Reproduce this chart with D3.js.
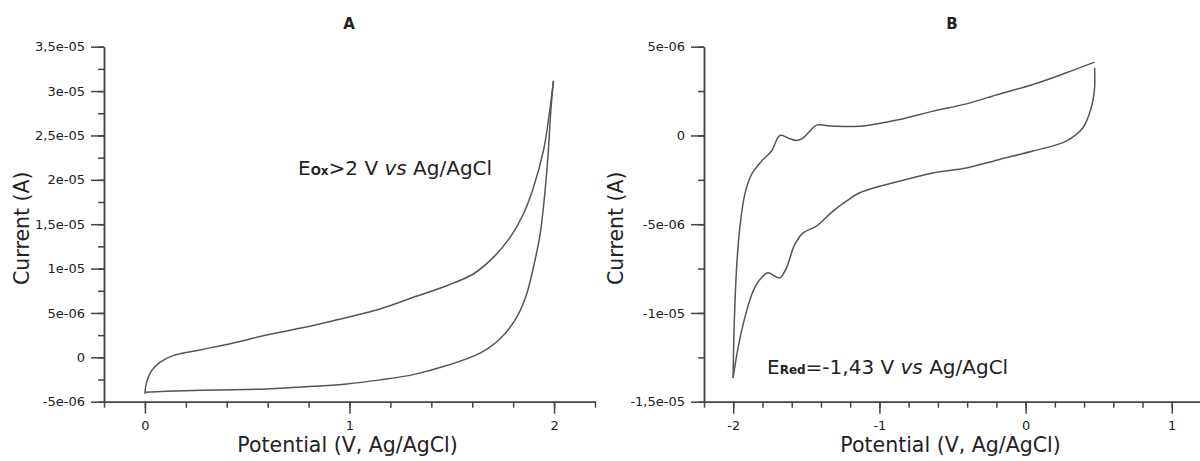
<!DOCTYPE html>
<html>
<head>
<meta charset="utf-8">
<script src="https://cdnjs.cloudflare.com/ajax/libs/d3/7.8.5/d3.min.js"></script>
<style>
  body { margin: 0; background: #fff; }
  svg { display: block; font-family: "DejaVu Sans", Verdana, sans-serif; }
  .tick text { fill: #222; font-size: 13px; font-family: "DejaVu Sans", Verdana, sans-serif; }
  .tick line, .domain { stroke: #444; stroke-width: 1.5; }
</style>
</head>
<body>
<svg id="chart" width="1200" height="461"></svg>
<script>
// panel A - oxidation scan
const potA_fwd = [0, 0.008, 0.033, 0.073, 0.138, 0.269, 0.432, 0.595, 0.758, 0.921, 1.149, 1.312, 1.475, 1.605, 1.703, 1.785, 1.85, 1.899, 1.948, 1.972, 1.997]
const curA_fwd = [-4.12e-6, -2.82e-6, -1.5e-6, -0.56e-6, 0.19e-6, 0.83e-6, 1.62e-6, 2.52e-6, 3.27e-6, 4.13e-6, 5.45e-6, 6.76e-6, 8.07e-6, 9.39e-6, 1.126e-5, 1.351e-5, 1.615e-5, 1.914e-5, 2.328e-5, 2.666e-5, 3.116e-5]
const potA_rev = [1.997, 1.984, 1.972, 1.956, 1.932, 1.899, 1.866, 1.817, 1.736, 1.638, 1.475, 1.312, 1.149, 0.987, 0.823, 0.595, 0.432, 0.106, 0]
const curA_rev = [3.116e-5, 2.778e-5, 2.328e-5, 1.877e-5, 1.39e-5, 1.014e-5, 7.14e-6, 4.5e-6, 2.1e-6, 0.47e-6, -0.93e-6, -1.95e-6, -2.54e-6, -3.0e-6, -3.27e-6, -3.56e-6, -3.64e-6, -3.83e-6, -3.94e-6]

// panel B - reduction scan
const potB_fwd = [-2.001, -1.994, -1.977, -1.955, -1.921, -1.875, -1.807, -1.738, -1.681, -1.625, -1.567, -1.522, -1.476, -1.431, -1.317, -1.135, -0.861, -0.634, -0.405, -0.178, 0.05, 0.278, 0.472]
const curB_fwd = [-1.366e-5, -1.084e-5, -7.46e-6, -5.21e-6, -3.32e-6, -2.2e-6, -1.45e-6, -0.88e-6, 0, -0.14e-6, -0.28e-6, -0.14e-6, 0.24e-6, 0.58e-6, 0.52e-6, 0.52e-6, 0.9e-6, 1.37e-6, 1.78e-6, 2.34e-6, 2.87e-6, 3.53e-6, 4.13e-6]
const potB_rev = [0.472, 0.472, 0.449, 0.392, 0.278, 0.05, -0.178, -0.405, -0.634, -0.861, -1.135, -1.226, -1.317, -1.431, -1.522, -1.579, -1.636, -1.681, -1.716, -1.761, -1.807, -1.864, -1.921, -1.967, -2.001]
const curB_rev = [3.81e-6, 2.68e-6, 1.56e-6, 0.43e-6, -0.32e-6, -0.88e-6, -1.35e-6, -1.83e-6, -2.11e-6, -2.57e-6, -3.23e-6, -3.7e-6, -4.26e-6, -5.11e-6, -5.49e-6, -6.14e-6, -7.46e-6, -8.02e-6, -7.93e-6, -7.74e-6, -8.02e-6, -8.77e-6, -1.028e-5, -1.197e-5, -1.366e-5]

// axes
const xMajorA = [0, 1, 2]
const xMajorB = [-2, -1, 0, 1]
const yMajorA = [-5e-6, 0, 5e-6, 1e-5, 1.5e-5, 2e-5, 2.5e-5, 3e-5, 3.5e-5]
const yMajorB = [-1.5e-5, -1e-5, -5e-6, 0, 5e-6]

// "3,5e-05" style labels
const fmtSci = v => {
  if (Math.abs(v) < 1e-12) return "0"
  const [m, e] = v.toExponential().split("e")
  const n = Math.abs(+e)
  return m.replace(".", ",") + "e" + (+e < 0 ? "-" : "+") + String(n).padStart(2, "0")
}

const svg = d3.select("#chart")
const lineColor = "#555"

const panels = [
  { title: "A", left: 104, right: 595, xDom: [-0.2, 2.2], yDom: [-5e-6, 3.5e-5], xMaj: xMajorA, yMaj: yMajorA,
    series: [[potA_fwd, curA_fwd], [potA_rev, curA_rev]], yTitleX: 29,
    note: { x: 298, y: 175, sub: "Ox", rest: ">2 V " } },
  { title: "B", left: 704, right: 1201, xDom: [-2.2, 1.2], yDom: [-1.5e-5, 5e-6], xMaj: xMajorB, yMaj: yMajorB,
    series: [[potB_fwd, curB_fwd], [potB_rev, curB_rev]], yTitleX: 623,
    note: { x: 767, y: 374, sub: "Red", rest: "=-1,43 V " } }
]

const plotTop = 46.7, plotBottom = 401.7

panels.forEach(p => {
  const x = d3.scaleLinear().domain(p.xDom).range([p.left, p.right])
  const y = d3.scaleLinear().domain(p.yDom).range([plotBottom, plotTop])
  const g = svg.append("g")

  // minor ticks
  const xMinor = d3.range(Math.round(p.xDom[0] * 5), Math.round(p.xDom[1] * 5) + 1).map(d => d / 5)
  const step = p.yMaj[1] - p.yMaj[0]
  const yMinor = d3.range(0, Math.round((p.yDom[1] - p.yDom[0]) / (step / 2)) + 1).map(i => p.yDom[0] + i * step / 2)

  g.append("g").attr("transform", `translate(0,${plotBottom})`)
    .call(d3.axisBottom(x).tickValues(xMinor).tickSize(6).tickSizeOuter(0).tickFormat(""))
  g.append("g").attr("transform", `translate(${p.left},0)`)
    .call(d3.axisLeft(y).tickValues(yMinor).tickSize(6).tickSizeOuter(0).tickFormat(""))

  g.append("g").attr("transform", `translate(0,${plotBottom})`)
    .call(d3.axisBottom(x).tickValues(p.xMaj).tickSize(12).tickSizeOuter(0).tickPadding(7).tickFormat(d => String(d)))
  g.append("g").attr("transform", `translate(${p.left},0)`)
    .call(d3.axisLeft(y).tickValues(p.yMaj).tickSize(13).tickSizeOuter(0).tickPadding(6).tickFormat(fmtSci))

  const line = d3.line().x(d => x(d[0])).y(d => y(d[1])).curve(d3.curveCatmullRom.alpha(0.5))
  p.series.forEach(([xs, ys]) => {
    g.append("path")
      .datum(xs.map((v, i) => [v, ys[i]]))
      .attr("fill", "none")
      .attr("stroke", lineColor)
      .attr("stroke-width", 1.5)
      .attr("d", line)
  })

  // titles
  g.append("text").attr("x", (p.left + p.right) / 2 - 0.5).attr("y", 29)
    .attr("text-anchor", "middle").attr("font-weight", "bold").attr("font-size", 15).attr("fill", "#222")
    .text(p.title)
  g.append("text").attr("x", (p.left + p.right) / 2 - 2).attr("y", 452)
    .attr("text-anchor", "middle").attr("font-size", 20.5).attr("fill", "#222")
    .text("Potential (V, Ag/AgCl)")
  g.append("text").attr("transform", `translate(${p.yTitleX},${(plotTop + plotBottom) / 2 + 4}) rotate(-90)`)
    .attr("text-anchor", "middle").attr("font-size", 20.5).attr("fill", "#222")
    .text("Current (A)")

  // annotation
  const t = g.append("text").attr("x", p.note.x).attr("y", p.note.y).attr("font-size", 20).attr("fill", "#222")
  t.append("tspan").text("E")
  t.append("tspan").attr("font-size", 12).attr("font-weight", "bold").text(p.note.sub)
  t.append("tspan").text(p.note.rest)
  t.append("tspan").attr("font-style", "italic").text("vs")
  t.append("tspan").text(" Ag/AgCl")
})
</script>
</body>
</html>
